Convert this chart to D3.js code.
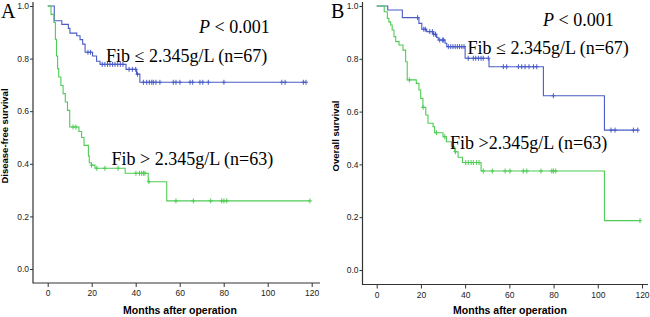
<!DOCTYPE html>
<html>
<head>
<meta charset="utf-8">
<script src="https://cdn.jsdelivr.net/npm/d3@7"></script>
<style>
  body { margin: 0; background: #fff; }
  svg { display: block; }
</style>
</head>
<body>
<svg id="chart" width="650" height="317"></svg>
<script>
// ticks
const monthTicks = [0, 20, 40, 60, 80, 100, 120];
const survTicks = [0, 0.2, 0.4, 0.6, 0.8, 1.0];

// A: disease-free survival, [month, survival] at each drop
const dfsLowSteps = [[0,1],[3,0.944],[6.4,0.93],[9.4,0.915],[10.1,0.897],[13.2,0.887],[14.7,0.872],
  [15.9,0.855],[17,0.824],[20.4,0.81],[22.2,0.79],[23.8,0.778],[35.6,0.759],[40.4,0.741],[41.9,0.71]];
const dfsLowCensor = [18.3,19.5,24.8,26,27.2,28.3,29.5,30.6,31.8,33,34.2,37,38.5,40,40.8,43.5,45,46.2,47.3,48,49.2,51,
  57.1,58.3,60.1,64.7,65.9,69.2,70.5,73,80.1,106.4,107.9,116.2,117.4];
const dfsHighSteps = [[0,1],[1.5,0.968],[2.8,0.937],[3.5,0.873],[4,0.81],[4.5,0.762],[5,0.73],[6,0.698],[7,0.667],
  [8,0.635],[9,0.603],[10,0.54],[14.2,0.523],[15.4,0.5],[16.5,0.47],[18.5,0.43],[18.9,0.404],[19.9,0.395],
  [21.5,0.383],[35.2,0.364],[45.7,0.332],[54.1,0.259]];
const dfsHighCensor = [11.5,12.8,19.9,22.3,26,32,40.1,41.7,42.7,43.5,44.2,46,58.3,66.2,74.1,79.1,80.1,81.4,119.2];

// B: overall survival
const osLowSteps = [[0,1],[5,0.985],[11.6,0.956],[19.1,0.934],[20.4,0.912],[22.6,0.903],[25.6,0.893],[27.1,0.881],
  [27.8,0.871],[30.9,0.859],[31.7,0.846],[40,0.802],[50.8,0.77],[75.4,0.66],[103,0.53]];
const osLowCensor = [18.5,21.3,22,24,25.2,25.8,26.6,28.5,29.8,30.3,32.4,33.5,34.5,35.5,36.5,37.5,38.5,39.5,41.4,43.7,44.8,
  46,47.2,48.2,50.5,57.3,58.8,64.1,65.6,67.1,68.9,70.9,72.4,79.9,106,107.8,116.1,118.1];
const osHighSteps = [[0,1],[3.4,0.978],[4.8,0.953],[5.5,0.94],[6.3,0.928],[7,0.909],[7.8,0.884],[8.6,0.865],
  [10.1,0.852],[11.9,0.833],[13.1,0.789],[13.8,0.72],[17.9,0.707],[19.1,0.682],[19.9,0.65],[20.9,0.616],
  [22.2,0.587],[23.2,0.556],[25.5,0.543],[26.2,0.52],[30,0.505],[31.5,0.486],[33.8,0.467],[35.3,0.448],
  [36.8,0.427],[38.8,0.407],[47.2,0.375],[103,0.187]];
const osHighCensor = [14.8,21,27,30.8,35.6,40.3,41.4,42.7,43.7,45.2,46.3,48.2,52.3,58.1,60.3,66.3,67.9,74.3,79.2,79.9,81,119.1];

const blue = "#4a5cc8", green = "#4fcc55";

const svg = d3.select("#chart");

const panels = [
  {
    letter: "A", ytitle: "Disease-free survival",
    xr: [47.7, 311.7], yr: [269, 6], axisX: 33, axisY: 283, axisRight: 320,
    letterPos: [1, 18], pPos: [199, 33],
    lowLabel: "Fib \u2264 2.345g/L (n=67)", lowPos: [106, 61.5],
    highLabel: "Fib > 2.345g/L (n=63)", highPos: [111.5, 165],
    ytitleX: 8, ytitleY: 136, xtitleX: 180,
    low: dfsLowSteps, lowC: dfsLowCensor, high: dfsHighSteps, highC: dfsHighCensor
  },
  {
    letter: "B", ytitle: "Overall survival",
    xr: [376.7, 642], yr: [270, 6], axisX: 362.5, axisY: 284.5, axisRight: 648,
    letterPos: [331, 18], pPos: [543, 26],
    lowLabel: "Fib \u2264 2.345g/L (n=67)", lowPos: [467.5, 53.5],
    highLabel: "Fib >2.345g/L (n=63)", highPos: [450, 148.5],
    ytitleX: 339, ytitleY: 136, xtitleX: 510,
    low: osLowSteps, lowC: osLowCensor, high: osHighSteps, highC: osHighCensor
  }
];

function survAt(steps, t) {
  let s = 1;
  for (const [m, v] of steps) if (m <= t) s = v;
  return s;
}

panels.forEach(p => {
  const x = d3.scaleLinear().domain([0, 120]).range(p.xr);
  const y = d3.scaleLinear().domain([0, 1]).range(p.yr);
  const g = svg.append("g");

  // axes
  const ya = g.append("g").attr("transform", `translate(${p.axisX},0)`)
    .call(d3.axisLeft(y).tickValues(survTicks).tickFormat(d3.format(".1f")).tickSize(3).tickPadding(1));
  const xa = g.append("g").attr("transform", `translate(0,${p.axisY})`)
    .call(d3.axisBottom(x).tickValues(monthTicks).tickSize(4).tickPadding(3));
  [ya, xa].forEach(a => {
    a.select(".domain").remove();
    a.selectAll("text").attr("font-family", "Liberation Sans, Arial, sans-serif").attr("font-size", 8.5).attr("fill", "#222");
    a.selectAll("line").attr("stroke", "#333");
  });
  g.append("path")
    .attr("d", `M${p.axisX},2V${p.axisY}H${p.axisRight}`)
    .attr("fill", "none").attr("stroke", "#333").attr("stroke-width", 1.2);

  // curves
  const line = d3.line().x(d => x(d[0])).y(d => y(d[1])).curve(d3.curveStepAfter);
  [[p.low, p.lowC, blue], [p.high, p.highC, green]].forEach(([steps, cens, col]) => {
    const last = d3.max([d3.max(cens), d3.max(steps, d => d[0])]);
    const pts = steps.concat([[last, steps[steps.length - 1][1]]]);
    g.append("path").attr("d", line(pts)).attr("fill", "none")
      .attr("stroke", col).attr("stroke-width", 1.1);
    g.selectAll(null).data(cens).enter().append("path")
      .attr("d", d => `M${x(d)},${y(survAt(steps, d)) - 2.5}v5M${x(d) - 2},${y(survAt(steps, d))}h4`)
      .attr("stroke", col).attr("stroke-width", 1);
  });

  // labels
  const serif = "Liberation Serif, Times New Roman, serif";
  g.append("text").attr("x", p.letterPos[0]).attr("y", p.letterPos[1])
    .attr("font-family", serif).attr("font-size", 20).text(p.letter);
  const pt = g.append("text").attr("x", p.pPos[0]).attr("y", p.pPos[1])
    .attr("font-family", serif).attr("font-size", 18);
  pt.append("tspan").attr("font-style", "italic").text("P");
  pt.append("tspan").text(" < 0.001");
  g.append("text").attr("x", p.lowPos[0]).attr("y", p.lowPos[1])
    .attr("font-family", serif).attr("font-size", 18).text(p.lowLabel);
  g.append("text").attr("x", p.highPos[0]).attr("y", p.highPos[1])
    .attr("font-family", serif).attr("font-size", 18).text(p.highLabel);

  const sans = "Liberation Sans, Arial, sans-serif";
  g.append("text").attr("transform", `translate(${p.ytitleX},${p.ytitleY}) rotate(-90)`)
    .attr("text-anchor", "middle").attr("font-family", sans).attr("font-weight", "bold")
    .attr("font-size", 9.5).text(p.ytitle);
  g.append("text").attr("x", p.xtitleX).attr("y", 313.5)
    .attr("text-anchor", "middle").attr("font-family", sans).attr("font-weight", "bold")
    .attr("font-size", 10.5).text("Months after operation");
});
</script>
</body>
</html>
